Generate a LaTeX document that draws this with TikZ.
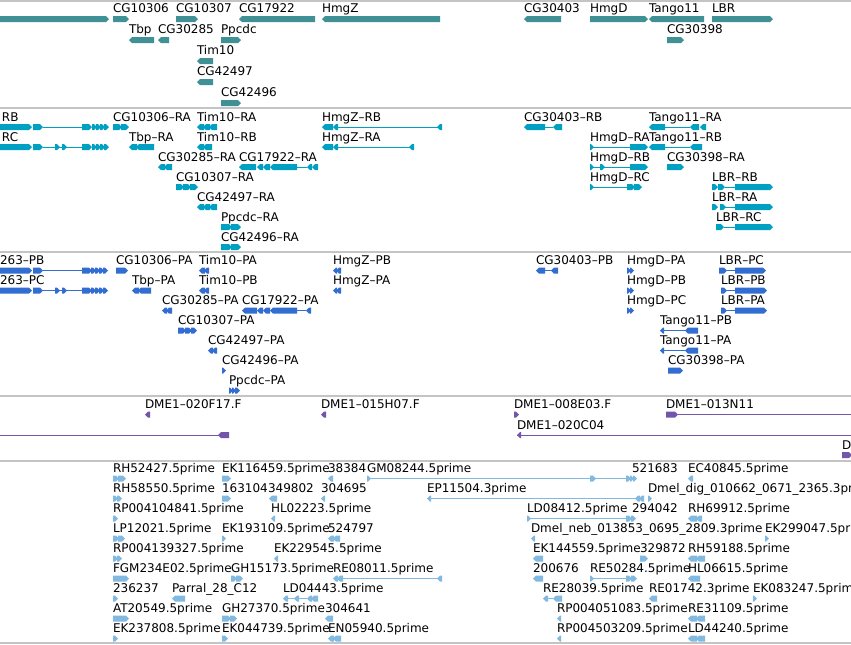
\documentclass[tikz,border=0pt]{standalone}
\usepackage{fontspec}
\setmainfont{DejaVu Sans}
\definecolor{cteal}{HTML}{409196}
\definecolor{ccyan}{HTML}{00A0C3}
\definecolor{cblue}{HTML}{326ED2}
\definecolor{cpurp}{HTML}{7355AA}
\definecolor{clite}{HTML}{82B9E1}
\definecolor{sepg}{HTML}{C4C4C4}
\newcounter{labn}
\def\rowy{0}
\def\laboff{6}
\newcommand\exR[2]{\fill (#1,\rowy-3) -- (#2-3,\rowy-3) -- (#2,\rowy) -- (#2-3,\rowy+3) -- (#1,\rowy+3) -- cycle;}
\newcommand\exL[2]{\fill (#1,\rowy) -- (#1+3,\rowy-3) -- (#2,\rowy-3) -- (#2,\rowy+3) -- (#1+3,\rowy+3) -- cycle;}
\newcommand\intr[2]{\draw[line width=0.75pt] (#1,\rowy) -- (#2,\rowy);}
\newcommand\glab[2]{\stepcounter{labn}\node[lbl] (lab\arabic{labn}) at (#1,\rowy-\laboff) {#2};}
\newcommand\chevR[1]{\exR{#1}{#1+5}\exR{#1+4}{#1+9}\exR{#1+8}{#1+13}\exR{#1+12}{#1+17}}
\tikzset{lbl/.style={anchor=base west,inner sep=0pt,outer sep=0pt,text=black,font=\fontsize{9}{10}\selectfont},
sep/.style={draw=sepg,line width=0.9pt}}
\begin{document}
\begin{tikzpicture}[x=0.75pt,y=-0.75pt]
\useasboundingbox (0,0) rectangle (851,644);
\clip (0,0) rectangle (851,644);
\fill[white] (0,0) rectangle (851,644);
\foreach \yy in {1,108,252,396,461,643} {\draw[sep] (0,\yy) -- (851,\yy);}
% ---------- track 1 ----------
\begin{scope}[color=cteal]
\def\laboff{6.5}
\def\rowy{19}
\exR{-5}{109}
\glab{113}{CG10306}\exR{113}{129}
\glab{176}{CG10307}\exR{176}{198}
\glab{239}{CG17922}\exL{239}{315}
\glab{322}{HmgZ}\exL{322}{440}
\glab{524}{CG30403}\exL{524}{561}
\glab{590}{HmgD}\exR{590}{648}
\glab{649}{Tango11}\exL{649}{704}
\glab{712}{LBR}\exR{712}{773}
\def\rowy{40}
\glab{129}{Tbp}\exL{129}{154}
\glab{158}{CG30285}\exL{158}{169}
\glab{221}{Ppcdc}\exR{221}{241}
\glab{667}{CG30398}\exR{667}{684}
\def\rowy{61}
\glab{197}{Tim10}\exL{197}{213}
\def\rowy{82}
\glab{197}{CG42497}\exL{197}{213}
\def\rowy{103}
\glab{221}{CG42496}\exR{221}{241}
\end{scope}
% ---------- track 2 ----------
\begin{scope}[color=ccyan]
\def\rowy{127}
\glab{2}{RB}\exR{-5}{32}\exR{33}{43}\intr{43}{82}\exR{82}{92}\chevR{92}
\glab{113}{CG10306--RA}\exR{113}{122}\exR{121}{129}
\glab{197}{Tim10--RA}\exL{197}{204}\exL{203}{210}\exL{209}{217}
\glab{322}{HmgZ--RB}\exL{322}{333}\exL{333}{338}\intr{338}{442}\exL{437}{442}
\glab{524}{CG30403--RB}\exL{524}{545}\intr{545}{553}\exL{553}{562}
\glab{649}{Tango11--RA}\exL{649}{665}\intr{665}{690}\exL{690}{699}\exL{700}{706}
\def\rowy{147}
\glab{2}{RC}\exR{-5}{32}\exR{33}{43}\intr{43}{82}\exR{55}{60}\exR{62}{67}\exR{82}{92}\chevR{92}
\glab{129}{Tbp--RA}\exL{129}{137}\exL{136}{154}
\glab{197}{Tim10--RB}\exL{197}{204}\exL{203}{212}
\glab{322}{HmgZ--RA}\exL{322}{333}\exL{333}{338}\intr{338}{413}\exL{409}{414}
\glab{590}{HmgD--RA}\exR{590}{594}\intr{590}{630}\exR{630}{648}
\glab{649}{Tango11--RB}\exL{649}{665}\intr{665}{690}\exL{690}{702}
\def\rowy{167}
\glab{158}{CG30285--RA}\exL{158}{165}\exL{164}{172}
\glab{239}{CG17922--RA}\exL{239}{256}\exL{257}{263}\exL{263}{270}\exL{270}{297}\intr{297}{307}\exL{307}{312}\exL{312}{318}
\glab{590}{HmgD--RB}\exR{590}{594}\intr{590}{630}\exR{600}{605}\exR{630}{648}
\glab{667}{CG30398--RA}\exR{667}{684}
\def\rowy{187}
\glab{176}{CG10307--RA}\exR{176}{184}\exR{183}{191}\exR{190}{198}
\glab{590}{HmgD--RC}\exR{590}{594}\intr{590}{630}\exR{627}{635}\exR{634}{642}
\glab{712}{LBR--RB}\exR{712}{718}\exR{718}{725}\intr{725}{735}\exR{735}{773}
\def\rowy{207}
\glab{197}{CG42497--RA}\exL{197}{204}\exL{203}{210}\exL{209}{217}
\glab{712}{LBR--RA}\exR{712}{718}\exR{720}{726}\intr{725}{735}\exR{735}{773}
\def\rowy{227}
\glab{221}{Ppcdc--RA}\exR{221}{232}\exR{231}{241}
\glab{716}{LBR--RC}\exR{716}{724}\intr{724}{735}\exR{735}{773}
\def\rowy{247}
\glab{221}{CG42496--RA}\exR{221}{232}\exR{231}{241}
\end{scope}
% ---------- track 3 ----------
\begin{scope}[color=cblue]
\def\rowy{270.5}
\glab{0}{263--PB}\exR{-5}{32}\exR{33}{43}\intr{43}{82}\exR{82}{92}\chevR{91}
\glab{116}{CG10306--PA}\exR{116}{128}
\glab{199}{Tim10--PA}\exL{199}{205}\exL{204}{209}
\glab{333}{HmgZ--PB}\exL{333}{337}\exL{336}{341}
\glab{536}{CG30403--PB}\exL{536}{545}\intr{545}{553}\exL{551}{558}
\glab{627}{HmgD--PA}\exR{627}{631}\exR{630}{634}
\glab{719}{LBR--PC}\exR{719}{727}\intr{727}{735}\exR{735}{766}
\def\rowy{290.5}
\glab{0}{263--PC}\exR{-5}{32}\exR{33}{43}\intr{43}{82}\exR{55}{60}\exR{62}{67}\exR{82}{92}\chevR{91}
\glab{132}{Tbp--PA}\exL{132}{139}\exL{138}{151}
\glab{199}{Tim10--PB}\exL{199}{205}\exL{204}{209}
\glab{333}{HmgZ--PA}\exL{333}{337}\exL{336}{341}
\glab{627}{HmgD--PB}\exR{627}{631}\exR{630}{634}
\glab{721}{LBR--PB}\exR{721}{727}\intr{727}{735}\exR{735}{767}
\def\rowy{310.5}
\glab{162}{CG30285--PA}\exL{162}{167}\exL{166}{172}
\glab{242}{CG17922--PA}\exL{242}{257}\exL{257}{263}\exL{263}{270}\exL{270}{297}\intr{297}{306}\exL{306}{311}
\glab{627}{HmgD--PC}\exR{627}{631}\exR{630}{634}
\glab{721}{LBR--PA}\exR{721}{727}\intr{727}{735}\exR{735}{767}
\def\rowy{330.5}
\glab{178}{CG10307--PA}\exR{178}{186}\exR{185}{192}\exR{191}{197}
\glab{660}{Tango11--PB}\exL{660}{664}\intr{660}{685}\exL{685}{698}
\def\rowy{350.5}
\glab{208}{CG42497--PA}\exL{208}{213}\exL{212}{217}
\glab{660}{Tango11--PA}\exL{660}{664}\intr{660}{685}\exL{685}{698}
\def\rowy{370.5}
\glab{222}{CG42496--PA}\exR{222}{226}
\glab{668}{CG30398--PA}\exR{668}{683}
\def\rowy{390.5}
\glab{229}{Ppcdc--PA}\exR{229}{233}\exR{232}{236}\exR{235}{240}
\end{scope}
% ---------- track 4 ----------
\begin{scope}[color=cpurp]
\def\rowy{414.5}
\glab{145}{DME1--020F17.F}\exL{145}{150}
\glab{321}{DME1--015H07.F}\exL{321}{326}
\glab{514}{DME1--008E03.F}\exR{514}{519}
\glab{666}{DME1--013N11}\exR{666}{678}\intr{678}{855}
\def\rowy{435}
\intr{-5}{220}\exL{218}{229}
\glab{517}{DME1--020C04}\exL{517}{521}\intr{517}{855}
\def\rowy{455}
\glab{842}{D}\exR{842}{852}
\end{scope}
% ---------- track 5 ----------
\begin{scope}[color=clite]
\def\rowy{478.5}
\glab{113}{RH52427.5prime}\exR{113}{119}\exR{118}{126}
\glab{222}{EK116459.5prime}\exR{222}{231}
\glab{328}{38384}\exL{328}{333}
\glab{367}{GM08244.5prime}\exR{367}{371}\intr{367}{627}\exR{590}{596}\exR{626}{631}\exR{630}{634}\exR{633}{637}
\glab{632}{521683}
\glab{688}{EC40845.5prime}\exL{688}{693}
\def\rowy{498.5}
\glab{113}{RH58550.5prime}\exR{113}{118}\exR{117}{122}
\glab{222}{163104}\exR{222}{231}
\glab{268}{349802}\exL{269}{277}
\glab{321}{304695}\exL{321}{325}
\glab{427}{EP11504.3prime}\exL{427}{431}\intr{427}{636}\exL{635}{640}\exL{639}{644}
\glab{648}{Dmel\_dig\_010662\_0671\_2365.3prime}\exR{648}{652}
\def\rowy{518.5}
\glab{113}{RP004104841.5prime}\exR{113}{118}
\glab{271}{HL02223.5prime}\exL{271}{275}
\glab{527}{LD08412.5prime}\exR{527}{531}\intr{527}{627}\exR{626}{632}\exR{631}{636}
\glab{632}{294042}
\glab{688}{RH69912.5prime}\exL{688}{697}\exL{696}{702}
\def\rowy{538.5}
\glab{113}{LP12021.5prime}\exR{113}{119}\exR{118}{125}
\glab{222}{EK193109.5prime}\exR{222}{226}
\glab{328}{524797}\exL{328}{334}\exL{333}{340}
\glab{531}{Dmel\_neb\_013853\_0695\_2809.3prime}\exL{531}{535}
\glab{765}{EK299047.5prime}\exR{765}{769}
\def\rowy{558.5}
\glab{113}{RP004139327.5prime}\exR{113}{118}\exR{117}{122}
\glab{274}{EK229545.5prime}\exL{274}{278}
\glab{533}{EK144559.5prime}\exL{533}{543}
\glab{640}{329872}\exR{640}{648}
\glab{688}{RH59188.5prime}\exL{688}{697}\exL{696}{705}
\def\rowy{578.5}
\glab{113}{FGM234E02.5prime}\exR{113}{129}
\glab{231}{GH15173.5prime}\exR{231}{237}\exR{236}{243}
\glab{333}{RE08011.5prime}\exL{333}{338}\exL{337}{343}\intr{343}{442}\exL{437}{442}
\glab{533}{200676}\exL{533}{543}
\glab{590}{RE50284.5prime}\exR{590}{594}\intr{590}{627}\exR{626}{632}\exR{631}{637}
\glab{688}{HL06615.5prime}\exL{688}{700}
\def\rowy{598.5}
\glab{113}{236237}\exR{113}{118}
\glab{172}{Parral\_28\_C12}\exL{172}{185}
\glab{283}{LD04443.5prime}\exL{283}{288}\intr{288}{296}\exL{294}{299}\intr{299}{307}\exL{307}{312}\exL{311}{318}
\glab{543}{RE28039.5prime}\exL{543}{548}\intr{548}{553}\exL{553}{562}
\glab{649}{RE01742.3prime}\exL{649}{657}
\glab{753}{EK083247.5prime}\exR{753}{757}
\def\rowy{618.5}
\glab{113}{AT20549.5prime}\exR{113}{129}
\glab{222}{GH27370.5prime}\exR{222}{231}\exR{230}{237}
\glab{325}{304641}\exL{325}{333}
\glab{557}{RP004051083.5prime}\exL{557}{561}
\glab{688}{RE31109.5prime}\exL{688}{697}\exL{696}{705}
\def\rowy{638.5}
\glab{113}{EK237808.5prime}\exR{113}{118}
\glab{222}{EK044739.5prime}\exR{222}{228}
\glab{328}{EN05940.5prime}\exL{328}{334}\exL{333}{341}
\glab{557}{RP004503209.5prime}\exL{557}{561}
\glab{688}{LD44240.5prime}\exL{688}{697}\exL{696}{705}
\end{scope}
\end{tikzpicture}
\end{document}
